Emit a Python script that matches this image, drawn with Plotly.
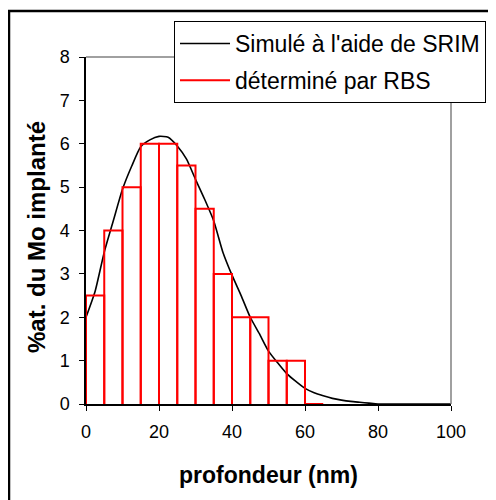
import plotly.graph_objects as go

# SRIM simulated profile (depth in nm, at.% Mo)
depth_srim = [0, 2.5, 5, 7.5, 10, 12.5, 15, 17.5, 20, 22.5, 25, 27.5, 30, 32.5, 35,
              37.5, 40, 42.5, 45, 47.5, 50, 52.5, 55, 57.5, 60, 62.5, 65, 67.5, 70,
              72.5, 75, 77.5, 80, 90, 100]
conc_srim = [2.0, 2.6, 3.5, 4.23, 4.95, 5.48, 5.93, 6.09, 6.17, 6.15, 5.95, 5.65, 5.18,
             4.72, 4.22, 3.5, 2.97, 2.5, 2.0, 1.62, 1.22, 0.95, 0.7, 0.52, 0.36, 0.26,
             0.19, 0.13, 0.09, 0.06, 0.04, 0.02, 0.0, 0.0, 0.0]

# RBS determined profile (bins)
rbs_bin_start = [0, 5, 10, 15, 20, 25, 30, 35, 40, 45, 50, 55, 60]
rbs_conc = [2.5, 4, 5, 6, 6, 5.5, 4.5, 3, 2, 2, 1, 1, 0]
rbs_bin_width = 5

x_ticks = [0, 20, 40, 60, 80, 100]
y_ticks = [0, 1, 2, 3, 4, 5, 6, 7, 8]

FONT = "Arial, Liberation Sans, sans-serif"

# outline of each RBS bin as a box (built from the bin data)
rbs_x, rbs_y = [], []
for s, v in zip(rbs_bin_start, rbs_conc):
    e = s + rbs_bin_width
    rbs_x += [s, s, e, e, None]
    rbs_y += [0, v, v, 0, None]

fig = go.Figure()
fig.add_trace(go.Scatter(
    x=depth_srim, y=conc_srim, mode="lines",
    line=dict(color="black", width=1.6, shape="spline", smoothing=0.6),
    name="Simulé à l'aide de SRIM", legendgroup="a", hoverinfo="skip",
))
fig.add_trace(go.Scatter(
    x=rbs_x, y=rbs_y, mode="lines",
    line=dict(color="#ff0000", width=2),
    name="déterminé par RBS", legendgroup="b", hoverinfo="skip",
    cliponaxis=False,
))

# the page has an 8px body margin: figure spans viewport 8..496 / 8..500
OFF = 8
W, H = 496 - OFF, 500 - OFF
L = 86 - OFF
T = 57 - OFF
R = W - (451 - OFF)
B = H - (404 - OFF)
pw, ph = W - L - R, H - T - B
def px_x(p):  # viewport pixel -> paper x
    return (p - OFF - L) / pw
def px_y(p):  # viewport pixel -> paper y
    return (H - B - (p - OFF)) / ph

fig.update_layout(
    width=W, height=H,
    margin=dict(l=L, r=R, t=T, b=B, autoexpand=False),
    paper_bgcolor="white", plot_bgcolor="white",
    font=dict(family=FONT, color="black", size=18),
    showlegend=True,
    legend=dict(
        x=px_x(174), y=px_y(21), xanchor="left", yanchor="top",
        bgcolor="white", bordercolor="black", borderwidth=1,
        font=dict(size=23, family=FONT, color="black"),
        tracegroupgap=4, traceorder="grouped", indentation=0,
        itemwidth=50,
    ),
    xaxis=dict(
        range=[0, 100], tickvals=x_ticks, ticks="outside", ticklen=5,
        tickcolor="black", showline=True, linecolor="black", linewidth=1.5,
        showgrid=False, zeroline=False, automargin=False, ticklabelstandoff=6,
        layer="below traces",
        title=dict(text="<b>profondeur (nm)</b>", font=dict(size=23), standoff=26),
        tickfont=dict(size=18),
    ),
    yaxis=dict(
        range=[0, 8], tickvals=y_ticks, ticks="outside", ticklen=5,
        tickcolor="black", showline=True, linecolor="black", linewidth=1.5,
        showgrid=False, zeroline=False, automargin=False, ticklabelstandoff=6,
        tickfont=dict(size=18),
    ),
    annotations=[
        dict(text="<b>%at. du Mo implanté</b>", xref="paper", yref="paper",
             x=px_x(36), y=px_y(237), textangle=-90, showarrow=False,
             xanchor="center", yanchor="middle", font=dict(size=24)),
    ],
    shapes=[
        # gray plot-area border (top and right)
        dict(type="line", xref="paper", yref="paper", x0=0, x1=1, y0=1, y1=1,
             line=dict(color="#808080", width=1.5)),
        dict(type="line", xref="paper", yref="paper", x0=1, x1=1, y0=0, y1=1,
             line=dict(color="#808080", width=1.5)),
        # outer chart frame (left and top)
        dict(type="line", xref="paper", yref="paper", x0=px_x(9), x1=px_x(9),
             y0=px_y(11), y1=px_y(510), line=dict(color="black", width=2.5)),
        dict(type="line", xref="paper", yref="paper", x0=px_x(8), x1=px_x(492),
             y0=px_y(11), y1=px_y(11), line=dict(color="black", width=2.5)),
    ],
)

fig.write_html("out.html")
